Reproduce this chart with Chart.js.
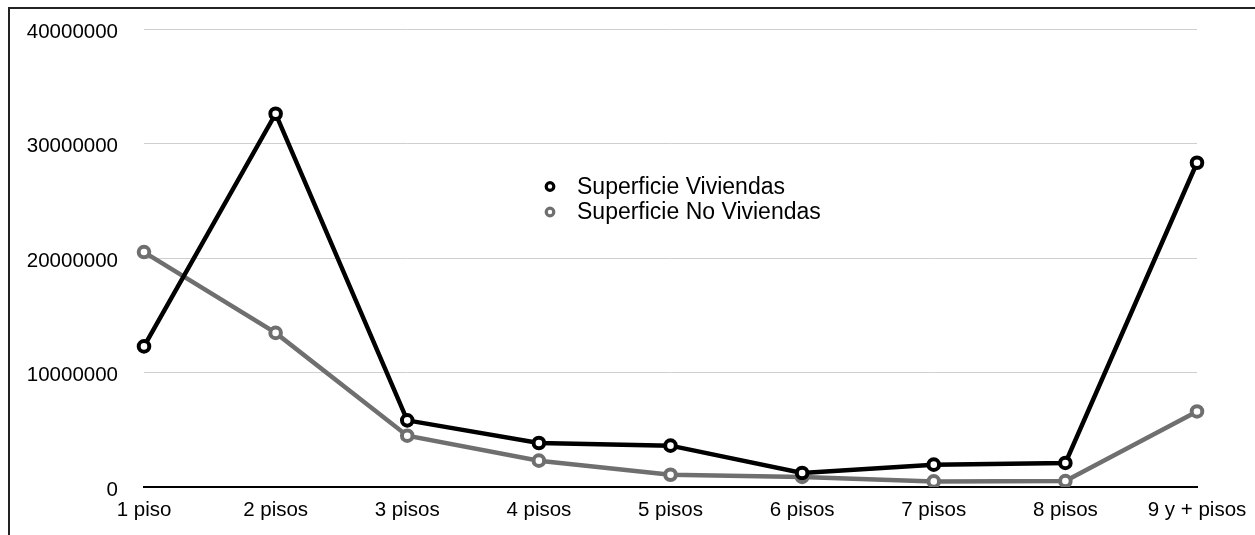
<!DOCTYPE html>
<html>
<head>
<meta charset="utf-8">
<script src="https://cdn.jsdelivr.net/npm/chart.js@4/dist/chart.umd.min.js"></script>
<style>
  html, body { margin: 0; padding: 0; background: #fff; }
  #wrap { position: relative; width: 1255px; height: 535px; overflow: hidden; }
  #frame { position: absolute; left: 8px; top: 7px; width: 1300px; height: 600px;
           border-top: 2px solid #222; border-left: 2px solid #222; box-sizing: border-box; pointer-events: none; }
  canvas { position: absolute; left: 0; top: 0; }
</style>
</head>
<body>
<div id="wrap">
  <canvas id="c" width="1255" height="535"></canvas>
  <div id="frame"></div>
</div>
<script>
// Categories: number of floors
const categories = ['1 piso', '2 pisos', '3 pisos', '4 pisos', '5 pisos', '6 pisos', '7 pisos', '8 pisos', '9 y + pisos'];

// Built surface per category
const superficieViviendas   = [12280000, 32600000, 5820000, 3840000, 3610000, 1220000, 1950000, 2100000, 28320000];
const superficieNoViviendas = [20520000, 13460000, 4480000, 2300000, 1070000, 880000, 490000, 520000, 6600000];

// Y axis ticks
const yTicks = [0, 10000000, 20000000, 30000000, 40000000];

const seriesNames = ['Superficie Viviendas', 'Superficie No Viviendas'];
const seriesColors = ['#000000', '#6f6f6f'];

const FONT = '"Liberation Sans", Arial, Helvetica, sans-serif';

// Legend drawn inside the plot area
const floatingLegend = {
  id: 'floatingLegend',
  afterDraw(chart) {
    const ctx = chart.ctx;
    ctx.save();
    ctx.font = '23px ' + FONT;
    ctx.textBaseline = 'middle';
    ctx.textAlign = 'left';
    chart.data.datasets.forEach((ds, i) => {
      const y = 186.5 + i * 25.5;
      ctx.beginPath();
      ctx.arc(550, y, 3.8, 0, Math.PI * 2);
      ctx.fillStyle = '#fff';
      ctx.fill();
      ctx.lineWidth = 3.2;
      ctx.strokeStyle = ds.borderColor;
      ctx.stroke();
      ctx.fillStyle = '#000';
      ctx.fillText(ds.label, 577, y + 1);
    });
    ctx.restore();
  }
};

function makeSet(label, data, color) {
  return {
    label: label,
    data: data,
    borderColor: color,
    backgroundColor: '#ffffff',
    borderWidth: 4.5,
    pointRadius: 5.3,
    pointBorderWidth: 4,
    pointBackgroundColor: '#ffffff',
    pointBorderColor: color,
    tension: 0,
    fill: false
  };
}

new Chart(document.getElementById('c'), {
  type: 'line',
  data: {
    labels: categories,
    datasets: [
      makeSet(seriesNames[0], superficieViviendas, seriesColors[0]),
      makeSet(seriesNames[1], superficieNoViviendas, seriesColors[1])
    ]
  },
  options: {
    responsive: false,
    animation: false,
    events: [],
    layout: { padding: { top: 29, right: 58, left: 0, bottom: 0 } },
    plugins: {
      legend: { display: false },
      tooltip: { enabled: false }
    },
    scales: {
      x: {
        offset: false,
        grid: { display: false, drawTicks: false },
        border: { display: true, color: '#000', width: 2 },
        ticks: {
          color: '#000',
          font: { family: FONT, size: 20.5 },
          padding: 11,
          maxRotation: 0,
          autoSkip: false
        },
        afterFit(scale) { scale.height = 48; scale.paddingLeft = 0; scale.paddingRight = 0; }
      },
      y: {
        min: yTicks[0],
        max: yTicks[yTicks.length - 1],
        afterBuildTicks(scale) { scale.ticks = yTicks.map(v => ({ value: v })); },
        grid: { color: '#cfcfcf', lineWidth: 1, drawTicks: false },
        border: { display: false },
        ticks: {
          color: '#000',
          font: { family: FONT, size: 20.5 },
          padding: 26,
          labelOffset: 3,
          callback: v => String(v)
        },
        afterFit(scale) { scale.width = 144; scale.paddingTop = 0; scale.paddingBottom = 0; }
      }
    }
  },
  plugins: [floatingLegend]
});
</script>
</body>
</html>
